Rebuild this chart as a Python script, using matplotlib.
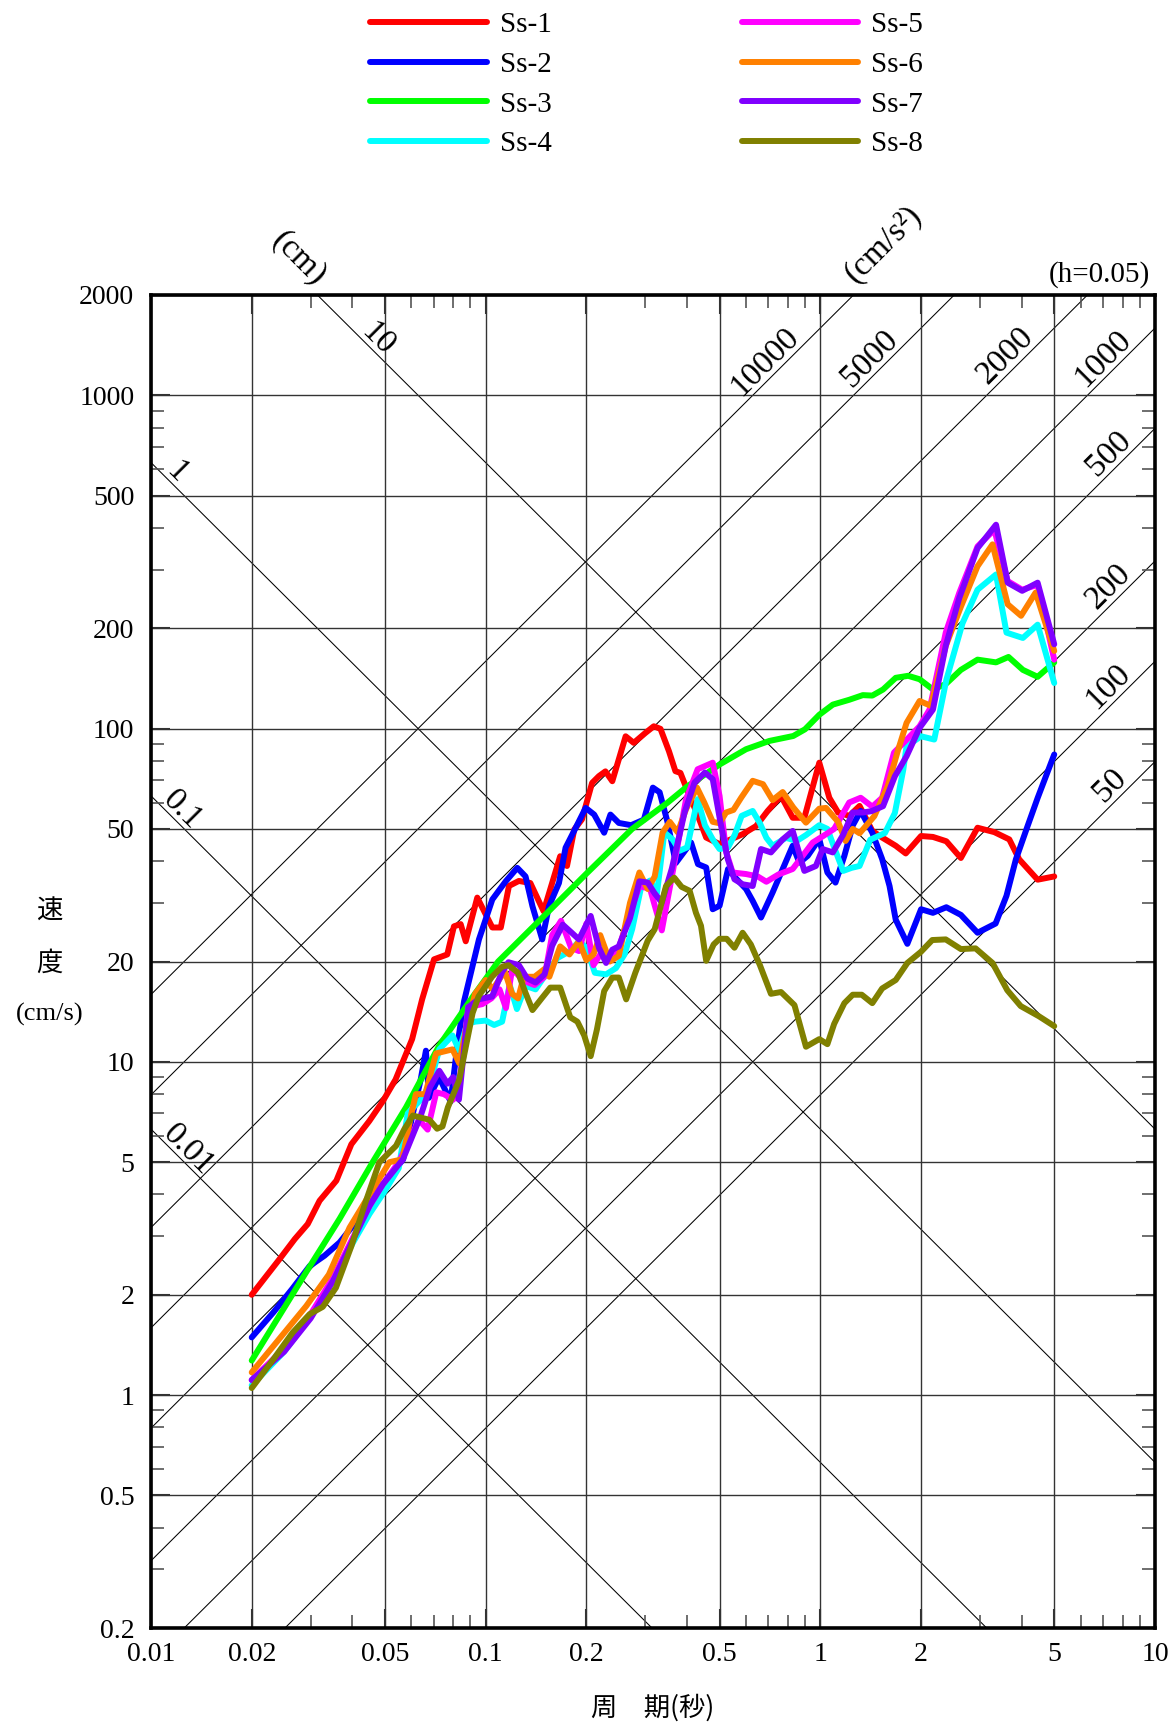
import numpy as np
import matplotlib
matplotlib.use('Agg')
import matplotlib.pyplot as plt
from matplotlib.ticker import FixedLocator, LogLocator, NullFormatter

SERIF = ['Liberation Serif', 'DejaVu Serif']
CJK = ['Noto Sans CJK JP', 'DejaVu Sans']

names = ['Ss-1', 'Ss-2', 'Ss-3', 'Ss-4', 'Ss-5', 'Ss-6', 'Ss-7', 'Ss-8']
colors = ['#ff0000', '#0000ff', '#00ff00', '#00ffff',
          '#ff00ff', '#ff8000', '#8000ff', '#808000']

# period (s) / pseudo velocity (cm/s)
period_1 = [0.02, 0.0243, 0.0269, 0.0294, 0.0319, 0.0358, 0.0397, 0.0449, 0.0493, 0.0538,
            0.0603, 0.0646, 0.0701, 0.0768, 0.0804, 0.0842, 0.0872, 0.0944, 0.1047, 0.111,
            0.1174, 0.1257, 0.136, 0.149, 0.158, 0.167, 0.175, 0.184, 0.194, 0.208,
            0.218, 0.228, 0.239, 0.262, 0.277, 0.300, 0.318, 0.333, 0.353, 0.369,
            0.382, 0.405, 0.43, 0.456, 0.5, 0.548, 0.586, 0.643, 0.696, 0.763,
            0.827, 0.896, 0.993, 1.064, 1.13, 1.22, 1.31, 1.43, 1.53, 1.68,
            1.8, 2.0, 2.17, 2.38, 2.63, 2.95, 3.31, 3.67, 3.93, 4.46, 5.0]
velocity_1 = [2.0, 2.57, 2.94, 3.26, 3.83, 4.4, 5.66, 6.64, 7.62, 8.85,
              11.7, 15.4, 20.3, 21.0, 25.5, 25.9, 23.0, 31.1, 25.3, 25.3,
              33.7, 34.9, 34.4, 28.3, 34.4, 41.4, 38.7, 49.8, 53.4, 68.7,
              72.0, 74.4, 69.5, 94.8, 90.6, 97.0, 101.6, 99.8, 85.5, 74.5,
              73.6, 63.4, 55.0, 47.1, 45.0, 46.8, 48.2, 51.0, 56.6, 62.8,
              54.0, 54.0, 79.0, 62.0, 56.0, 54.7, 58.6, 49.3, 47.1, 44.5,
              42.2, 47.6, 47.3, 45.9, 40.9, 50.4, 48.9, 46.5, 40.5, 35.2, 36.0]

period_2 = [0.02, 0.0232, 0.0265, 0.0298, 0.033, 0.0366, 0.0405, 0.0438, 0.0481, 0.0567,
            0.0606, 0.0639, 0.0663, 0.0677, 0.0726, 0.0786, 0.0823, 0.0862, 0.0955, 0.1047,
            0.1148, 0.1243, 0.1316, 0.138, 0.1476, 0.1546, 0.1656, 0.1733, 0.1836, 0.199,
            0.211, 0.226, 0.236, 0.25, 0.272, 0.297, 0.316, 0.331, 0.349, 0.37,
            0.411, 0.431, 0.456, 0.477, 0.5, 0.53, 0.56, 0.6, 0.628, 0.665,
            0.72, 0.772, 0.827, 0.866, 0.917, 0.993, 1.05, 1.11, 1.18, 1.25,
            1.32, 1.43, 1.53, 1.61, 1.68, 1.82, 2.0, 2.17, 2.38, 2.63,
            2.95, 3.34, 3.6, 3.84, 4.16, 4.46, 5.0]
velocity_2 = [1.49, 1.77, 2.09, 2.44, 2.62, 2.87, 3.26, 3.61, 4.15, 5.1,
              7.0, 8.8, 10.8, 7.8, 9.0, 7.6, 11.2, 15.2, 23.3, 30.7,
              34.8, 38.2, 36.0, 29.3, 23.3, 29.3, 34.4, 43.9, 49.2, 57.8,
              55.2, 48.7, 55.2, 52.1, 51.3, 53.3, 66.5, 64.4, 52.7, 39.5,
              45.5, 39.2, 38.3, 28.7, 29.4, 37.9, 35.5, 33.0, 30.4, 27.1,
              32.2, 37.9, 44.5, 39.6, 41.5, 46.6, 37.0, 34.5, 41.5, 51.2,
              56.6, 48.7, 40.6, 33.7, 26.7, 22.6, 28.7, 28.0, 29.1, 27.6,
              24.4, 26.0, 31.5, 40.5, 50.9, 61.9, 83.6]

period_3 = [0.02, 0.0291, 0.0366, 0.0459, 0.0578, 0.0727, 0.0916, 0.109, 0.15, 0.2,
            0.274, 0.35, 0.4, 0.5, 0.6, 0.704, 0.83, 0.9, 0.993, 1.09,
            1.22, 1.34, 1.43, 1.54, 1.68, 1.83, 1.98, 2.17, 2.37, 2.63,
            2.95, 3.35, 3.65, 4.03, 4.46, 5.0]
velocity_3 = [1.27, 2.34, 3.38, 4.99, 7.3, 11.2, 15.7, 20.0, 27.5, 36.7,
              50.0, 60.0, 67.0, 78.0, 86.7, 91.8, 95.0, 99.5, 110, 118,
              122, 126, 125.6, 131, 142, 144, 140.6, 131, 136, 150,
              161, 158, 164, 150, 143, 158]

period_4 = [0.02, 0.025, 0.03, 0.035, 0.04, 0.045, 0.05, 0.055, 0.0585, 0.064,
            0.068, 0.0727, 0.0796, 0.0834, 0.088, 0.093, 0.1, 0.106, 0.112, 0.118,
            0.124, 0.1316, 0.141, 0.153, 0.164, 0.179, 0.19, 0.2, 0.212, 0.229,
            0.245, 0.26, 0.274, 0.292, 0.31, 0.325, 0.342, 0.362, 0.38, 0.4,
            0.43, 0.452, 0.477, 0.5, 0.53, 0.555, 0.582, 0.628, 0.66, 0.69,
            0.72, 0.79, 0.85, 0.906, 0.993, 1.05, 1.1, 1.17, 1.24, 1.31,
            1.41, 1.56, 1.67, 1.77, 1.81, 2.0, 2.19, 2.38, 2.66, 2.95,
            3.35, 3.6, 4.03, 4.46, 5.0]
velocity_4 = [1.07, 1.35, 1.72, 2.2, 2.85, 3.5, 4.1, 4.8, 7.0, 7.7,
              8.5, 10.9, 12.0, 10.8, 13.0, 13.2, 13.3, 12.9, 13.2, 17.0,
              14.4, 16.9, 16.5, 18.6, 20.5, 21.5, 23.0, 22.0, 18.5, 18.3,
              19.1, 21.0, 25.0, 33.7, 35.0, 32.0, 48.8, 46.5, 43.0, 44.0,
              61.4, 51.3, 46.5, 43.5, 44.0, 48.0, 54.7, 56.6, 52.0, 47.0,
              44.5, 47.0, 46.0, 47.9, 51.3, 50.0, 44.0, 37.4, 38.2, 38.7,
              46.4, 48.6, 55.8, 75.3, 88.5, 94.8, 92.7, 140.0, 207, 261,
              290, 194, 187, 205, 137]

period_5 = [0.02, 0.025, 0.03, 0.035, 0.04, 0.045, 0.0493, 0.055, 0.0632, 0.0671,
            0.0712, 0.075, 0.08, 0.083, 0.0888, 0.0977, 0.104, 0.11, 0.115, 0.12,
            0.13, 0.14, 0.15, 0.158, 0.168, 0.18, 0.19, 0.2, 0.21, 0.22,
            0.235, 0.25, 0.27, 0.288, 0.31, 0.336, 0.362, 0.397, 0.43, 0.477,
            0.5, 0.523, 0.547, 0.6, 0.65, 0.69, 0.75, 0.827, 0.949, 1.02,
            1.1, 1.22, 1.32, 1.43, 1.53, 1.66, 1.8, 1.98, 2.12, 2.37,
            2.6, 2.95, 3.31, 3.63, 4.01, 4.46, 5.0]
velocity_5 = [1.11, 1.38, 1.75, 2.25, 2.95, 3.7, 4.3, 5.0, 6.7, 6.26,
              8.1, 8.0, 7.7, 8.3, 14.6, 14.9, 15.5, 16.5, 14.5, 19.0,
              17.5, 17.0, 18.0, 24.0, 26.5, 22.0, 21.5, 26.0, 19.5, 21.0,
              20.5, 22.0, 28.0, 33.7, 33.0, 24.8, 37.0, 61.3, 75.5, 79.0,
              62.8, 42.7, 37.0, 36.6, 36.0, 34.7, 36.5, 37.9, 45.5, 47.6,
              50.0, 60.0, 62.0, 58.3, 62.0, 84.7, 92.0, 101.6, 114, 194,
              255, 352, 395, 277, 261, 270, 161]

period_6 = [0.02, 0.0291, 0.034, 0.0392, 0.045, 0.0516, 0.0564, 0.06, 0.0619, 0.066,
            0.0711, 0.0796, 0.0834, 0.088, 0.093, 0.1, 0.105, 0.114, 0.12, 0.125,
            0.13, 0.14, 0.15, 0.155, 0.167, 0.178, 0.19, 0.2, 0.21, 0.22,
            0.235, 0.25, 0.27, 0.288, 0.305, 0.32, 0.338, 0.355, 0.375, 0.397,
            0.428, 0.45, 0.477, 0.5, 0.523, 0.55, 0.58, 0.628, 0.674, 0.72,
            0.772, 0.83, 0.906, 0.993, 1.04, 1.13, 1.19, 1.25, 1.31, 1.45,
            1.59, 1.7, 1.81, 1.98, 2.14, 2.37, 2.63, 2.95, 3.27, 3.63,
            3.98, 4.4, 5.0]
velocity_6 = [1.17, 1.85, 2.3, 3.18, 4.0, 5.0, 5.1, 7.0, 8.0, 8.0,
              10.6, 10.9, 9.9, 13.0, 16.0, 17.6, 16.5, 18.7, 16.0, 15.5,
              18.0, 18.0, 19.0, 18.0, 22.2, 21.0, 23.0, 20.2, 21.0, 24.0,
              20.0, 20.8, 30.0, 37.0, 33.0, 36.0, 48.8, 52.5, 48.8, 57.3,
              66.5, 60.0, 52.5, 52.0, 56.0, 57.0, 62.0, 69.7, 68.1, 61.0,
              64.5, 58.0, 52.2, 57.5, 57.8, 52.5, 46.0, 50.0, 48.5, 54.6,
              67.1, 85.0, 104, 121, 117, 177, 232, 307, 357, 236,
              218, 256, 171]

period_7 = [0.02, 0.025, 0.03, 0.035, 0.04, 0.045, 0.0493, 0.0566, 0.064, 0.0682,
            0.0727, 0.0769, 0.08, 0.0832, 0.0888, 0.0952, 0.1045, 0.112, 0.117, 0.1257,
            0.133, 0.141, 0.15, 0.158, 0.17, 0.18, 0.19, 0.206, 0.218, 0.229,
            0.239, 0.25, 0.27, 0.288, 0.305, 0.32, 0.336, 0.36, 0.393, 0.421,
            0.452, 0.477, 0.505, 0.529, 0.554, 0.586, 0.628, 0.665, 0.712, 0.772,
            0.827, 0.896, 0.97, 1.016, 1.09, 1.17, 1.25, 1.34, 1.42, 1.54,
            1.67, 1.81, 1.98, 2.17, 2.37, 2.6, 2.95, 3.35, 3.63, 4.01,
            4.46, 5.0]
velocity_7 = [1.11, 1.35, 1.7, 2.2, 2.9, 3.7, 4.29, 5.1, 6.9, 8.4,
              9.4, 8.6, 9.0, 7.7, 14.6, 15.4, 15.7, 18.6, 19.9, 19.5,
              17.8, 17.3, 18.3, 22.3, 25.8, 24.5, 23.3, 27.4, 22.0, 19.8,
              21.7, 22.2, 27.0, 34.8, 34.5, 32.0, 30.1, 38.0, 56.0, 68.9,
              73.8, 70.5, 51.2, 40.6, 35.3, 34.1, 33.7, 43.5, 42.5, 46.5,
              49.3, 37.4, 38.7, 43.5, 42.5, 48.0, 56.0, 56.0, 56.5, 58.5,
              71.9, 82.6, 100.5, 114, 177, 246, 348, 409, 274, 259,
              274, 179]

period_8 = [0.02, 0.0232, 0.0265, 0.0298, 0.0326, 0.0357, 0.0397, 0.0438, 0.0481, 0.0504,
            0.054, 0.0571, 0.0606, 0.0679, 0.0716, 0.0743, 0.0771, 0.0833, 0.0914, 0.0952,
            0.1045, 0.112, 0.117, 0.125, 0.1316, 0.138, 0.147, 0.156, 0.167, 0.179,
            0.188, 0.197, 0.206, 0.215, 0.226, 0.239, 0.25, 0.263, 0.28, 0.305,
            0.32, 0.346, 0.366, 0.385, 0.407, 0.425, 0.44, 0.456, 0.48, 0.5,
            0.525, 0.554, 0.586, 0.62, 0.66, 0.712, 0.763, 0.837, 0.906, 0.993,
            1.05, 1.1, 1.18, 1.25, 1.33, 1.43, 1.53, 1.68, 1.82, 2.0,
            2.16, 2.37, 2.63, 2.91, 3.27, 3.62, 3.97, 4.5, 5.0]
velocity_8 = [1.05, 1.28, 1.54, 1.75, 1.84, 2.1, 2.8, 3.8, 4.99, 5.23,
              5.6, 6.27, 6.9, 6.7, 6.3, 6.4, 7.3, 8.8, 14.0, 15.7,
              18.0, 19.3, 19.5, 18.5, 16.1, 14.3, 15.5, 16.7, 16.7, 13.6,
              13.2, 12.0, 10.4, 12.5, 16.3, 17.9, 17.9, 15.4, 18.5, 23.1,
              25.0, 33.7, 35.7, 33.5, 32.6, 28.0, 25.6, 20.1, 22.5, 23.4,
              23.4, 22.0, 24.4, 22.5, 19.5, 16.0, 16.2, 14.8, 11.1, 11.7,
              11.3, 13.0, 15.0, 15.9, 15.9, 15.0, 16.6, 17.6, 19.8, 21.4,
              23.2, 23.3, 21.8, 21.9, 19.8, 16.4, 14.7, 13.7, 12.8]

periods = [period_1, period_2, period_3, period_4, period_5, period_6, period_7, period_8]
velocities = [velocity_1, velocity_2, velocity_3, velocity_4,
              velocity_5, velocity_6, velocity_7, velocity_8]

# tripartite guide lines
disp_values = [0.01, 0.1, 1, 10]            # cm
disp_labels = ['0.01', '0.1', '1', '10']
disp_label_T = [0.0122, 0.0117, 0.0113, 0.045]
acc_values = [10000, 5000, 2000, 1000, 500, 200, 100, 50]   # cm/s2
acc_labels = ['10000', '5000', '2000', '1000', '500', '200', '100', '50']
acc_label_T = [0.735, 1.51, 3.83, 7.52, 7.8, 7.8, 7.8, 7.9]

x_major = [0.01, 0.02, 0.05, 0.1, 0.2, 0.5, 1, 2, 5, 10]
x_labels = ['0.01', '0.02', '0.05', '0.1', '0.2', '0.5', '1', '2', '5', '10']
y_major = [0.2, 0.5, 1, 2, 5, 10, 20, 50, 100, 200, 500, 1000, 2000]
y_labels = ['0.2', '0.5', '1', '2', '5', '10', '20', '50', '100', '200', '500', '1000', '2000']


fig = plt.figure(figsize=(11.74, 17.25), dpi=100)
ax = fig.add_axes([0.1286, 0.0562, 0.8552, 0.7728])
ax.set_xscale('log')
ax.set_yscale('log')
ax.set_xlim(0.01, 10)
ax.set_ylim(0.2, 2000)

ends = np.array([0.01, 10.0])
for d in disp_values:
    ax.plot(ends, 2 * np.pi * d / ends, color='k', lw=0.75, zorder=1)
for a in acc_values:
    ax.plot(ends, a * ends / (2 * np.pi), color='k', lw=0.75, zorder=1)

for d, lab, t in zip(disp_values, disp_labels, disp_label_T):
    ax.annotate(lab, xy=(t, 2 * np.pi * d / t), xytext=(6, 6), textcoords='offset points',
                rotation=-45, rotation_mode='anchor', ha='center', va='center',
                fontsize=24, family=SERIF, zorder=2)
for a, lab, t in zip(acc_values, acc_labels, acc_label_T):
    ax.annotate(lab, xy=(t, a * t / (2 * np.pi)), xytext=(-7.6, 7.6), textcoords='offset points',
                rotation=45, rotation_mode='anchor', ha='center', va='center',
                fontsize=24, family=SERIF, zorder=2)

lines = []
for T, v, c, n in zip(periods, velocities, colors, names):
    ln, = ax.plot(T, v, color=c, lw=4.3, label=n, zorder=3,
                  solid_joinstyle='round', solid_capstyle='round')
    lines.append(ln)

ax.xaxis.set_major_locator(FixedLocator(x_major))
ax.yaxis.set_major_locator(FixedLocator(y_major))
ax.set_xticklabels(x_labels, family=SERIF, fontsize=20)
ax.set_yticklabels(y_labels, family=SERIF, fontsize=20)
ax.xaxis.set_minor_locator(LogLocator(base=10, subs=[3, 4, 6, 7, 8, 9]))
ax.yaxis.set_minor_locator(LogLocator(base=10, subs=[3, 4, 6, 7, 8, 9]))
ax.xaxis.set_minor_formatter(NullFormatter())
ax.yaxis.set_minor_formatter(NullFormatter())
ax.tick_params(which='both', direction='in', top=True, right=True)
ax.tick_params(which='major', length=14, width=1.5, color='#333333')
ax.tick_params(axis='x', which='major', pad=10)
ax.tick_params(axis='y', which='major', pad=12)
ax.tick_params(which='minor', length=9.5, width=1.2, color='#555555')
ax.grid(which='major', color='#333333', lw=1.0, zorder=0)
for s in ax.spines.values():
    s.set_linewidth(2.6)

fig.text(299 / 1174, 1 - 258 / 1725, '(cm)', rotation=-45, ha='center', va='center',
         fontsize=24, family=SERIF)
fig.text(883 / 1174, 1 - 244 / 1725, '(cm/s²)', rotation=45, ha='center', va='center',
         fontsize=24, family=SERIF)
fig.text(1150 / 1174, 1 - 275 / 1725, '(h=0.05)', ha='right', va='center',
         fontsize=21, family=SERIF)

fig.text(0.042, 0.4719, '速', ha='center', va='center', fontsize=19, family=CJK)
fig.text(0.042, 0.4417, '度', ha='center', va='center', fontsize=19, family=CJK)
fig.text(0.042, 0.4122, '(cm/s)', ha='center', va='center', fontsize=19, family=SERIF)
fig.text(653 / 1174, 1 - 1708 / 1725, '周\u3000期(秒)', ha='center', va='center',
         fontsize=19, family=CJK)

leg = fig.legend(lines, names, ncol=2, loc='center', bbox_to_anchor=(0.551, 0.951),
                 frameon=False, fontsize=21,
                 handlelength=4.0, handletextpad=0.45, columnspacing=6.5,
                 labelspacing=0.45, borderpad=0)
for t in leg.get_texts():
    t.set_family(SERIF)

fig.savefig('out.png', dpi=100)
